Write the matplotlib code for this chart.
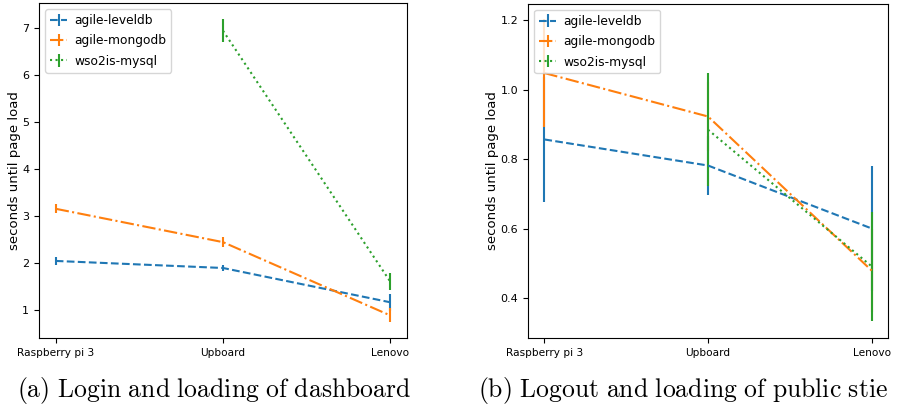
import numpy as np
import matplotlib.pyplot as plt

plt.rcParams['mathtext.fontset'] = 'cm'

# --- DATA ---
DEVICES = ["Raspberry pi 3", "Upboard", "Lenovo"]
SERIES = ["agile-leveldb", "agile-mongodb", "wso2is-mysql"]
STYLES = ['--', '-.', ':']

# (a) login and loading of dashboard
LOGIN_LEVELDB = [2.04, 1.89, 1.16]
LOGIN_LEVELDB_ERR = [0.08, 0.06, 0.18]
LOGIN_MONGODB = [3.15, 2.44, 0.88]
LOGIN_MONGODB_ERR = [0.10, 0.10, 0.15]
LOGIN_MYSQL = [np.nan, 6.94, 1.60]
LOGIN_MYSQL_ERR = [np.nan, 0.25, 0.18]

# (b) logout and loading of public site
LOGOUT_LEVELDB = [0.857, 0.782, 0.601]
LOGOUT_LEVELDB_ERR = [0.18, 0.086, 0.18]
LOGOUT_MONGODB = [1.048, 0.923, 0.48]
LOGOUT_MONGODB_ERR = [0.155, 0.10, 0.12]
LOGOUT_MYSQL = [np.nan, 0.885, 0.492]
LOGOUT_MYSQL_ERR = [np.nan, 0.162, 0.157]


def draw(ax, values, errors, ylim):
    x = np.arange(len(DEVICES))
    for name, y, err, ls in zip(SERIES, values, errors, STYLES):
        ax.errorbar(x, y, yerr=err, linestyle=ls, label=name)
    ax.set_xticks(x)
    ax.set_xticklabels(DEVICES, fontsize=7.6)
    ax.tick_params(axis='y', labelsize=8)
    ax.set_ylabel("seconds until page load", fontsize=9.5, labelpad=1)
    ax.set_ylim(*ylim)
    ax.legend(loc='upper left', fontsize=8.8, handlelength=1.4,
              handletextpad=0.6, labelspacing=0.6)


fig = plt.figure(figsize=(9.01, 4.08), dpi=100)
ax_a = fig.add_axes([0.0433, 0.1716, 0.4084, 0.821])
ax_b = fig.add_axes([0.586, 0.1716, 0.3996, 0.819])

draw(ax_a, [LOGIN_LEVELDB, LOGIN_MONGODB, LOGIN_MYSQL],
     [LOGIN_LEVELDB_ERR, LOGIN_MONGODB_ERR, LOGIN_MYSQL_ERR], (0.40, 7.53))
draw(ax_b, [LOGOUT_LEVELDB, LOGOUT_MONGODB, LOGOUT_MYSQL],
     [LOGOUT_LEVELDB_ERR, LOGOUT_MONGODB_ERR, LOGOUT_MYSQL_ERR], (0.286, 1.247))

fig.text(0.2375, 0.044, r'$\mathrm{(a)\ Login\ and\ loading\ of\ dashboard}$',
         ha='center', va='center', fontsize=18.5)
fig.text(0.758, 0.044, r'$\mathrm{(b)\ Logout\ and\ loading\ of\ public\ stie}$',
         ha='center', va='center', fontsize=18.5)

plt.savefig('out.png', dpi=100)
